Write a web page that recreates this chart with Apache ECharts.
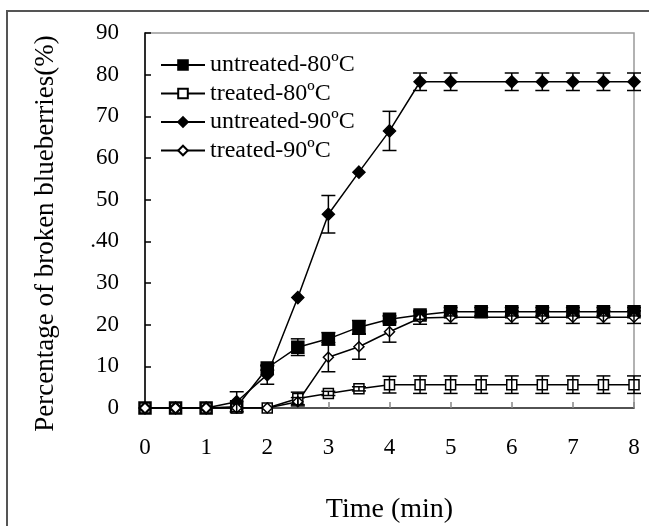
<!DOCTYPE html>
<html>
<head>
<meta charset="utf-8">
<script src="https://cdn.jsdelivr.net/npm/echarts@6/dist/echarts.min.js"></script>
<style>html,body{margin:0;padding:0;background:#fff}#c{width:649px;height:526px}</style>
</head>
<body>
<div id="c"></div>
<script>
// ---- data ----
var time = [0,0.5,1,1.5,2,2.5,3,3.5,4,4.5,5,5.5,6,6.5,7,7.5,8];
var untreated80    = [0,0,0,0.3,9.6,14.6,16.6,19.4,21.3,22.3,23.1,23.1,23.1,23.1,23.1,23.1,23.1];
var untreated80Err = [0,0,0,0,0.5,2,1.5,1.6,0.8,1,1,1,1,1,1,1,1];
var treated80      = [0,0,0,0,0,2.3,3.5,4.6,5.6,5.6,5.6,5.6,5.6,5.6,5.6,5.6,5.6];
var treated80Err   = [0,0,0,0,0,1.5,0.5,0.5,2,2.1,2.1,2.1,2.1,2.1,2.1,2.1,2.1];
var untreated90    = [0,0,0,1.5,8,26.5,46.5,56.6,66.5,78.3,78.3,null,78.3,78.3,78.3,78.3,78.3];
var untreated90Err = [0,0,0,2.4,2.3,0,4.5,0,4.7,2.1,2.1,null,2.1,2.1,2.1,2.1,2.1];
var treated90      = [0,0,0,0,0,1.5,12.2,14.7,18.3,21.6,21.8,null,21.8,21.8,21.8,21.8,21.8];
var treated90Err   = [0,0,0,0,0,1,3.5,3,2.5,1.5,1.5,null,1.5,1.5,1.5,1.5,1.5];
var seriesNames = ['untreated-80ºC','treated-80ºC','untreated-90ºC','treated-90ºC'];
var yTickLabels = ['0','10','20','30','.40','50','60','70','80','90'];
var xTickLabels = ['0','1','2','3','4','5','6','7','8'];

function pts(vals){
  var out=[];
  for(var i=0;i<time.length;i++){ if(vals[i]!==null) out.push([time[i],vals[i]]); }
  return out;
}
function errs(vals,e){
  var out=[];
  for(var i=0;i<time.length;i++){ if(vals[i]!==null && e[i]>0) out.push([time[i],vals[i]-e[i],vals[i]+e[i]]); }
  return out;
}
function errSeries(data){
  return {
    type:'custom', z:4, silent:true, data:data,
    renderItem:function(params,api){
      var x=api.value(0), lo=api.value(1), hi=api.value(2);
      var a=api.coord([x,lo]), b=api.coord([x,hi]); var w=7;
      var st={stroke:'#000',lineWidth:1.5};
      return {type:'group',children:[
        {type:'line',shape:{x1:a[0],y1:a[1],x2:b[0],y2:b[1]},style:st},
        {type:'line',shape:{x1:a[0]-w,y1:a[1],x2:a[0]+w,y2:a[1]},style:st},
        {type:'line',shape:{x1:b[0]-w,y1:b[1],x2:b[0]+w,y2:b[1]},style:st}
      ]};
    }
  };
}
function lineSeries(name,vals,symbol,size,filled){
  return {
    name:name, type:'line', data:pts(vals), symbol:symbol, symbolSize:size,
    showAllSymbol:true, z:3,
    lineStyle:{color:'#000',width:1.5},
    itemStyle:{color:filled?'#000':'#fff',borderColor:'#000',borderWidth:1.5},
    emphasis:{disabled:true}, animation:false
  };
}

var chart = echarts.init(document.getElementById('c'));
chart.setOption({
  animation:false,
  backgroundColor:'#fff',
  textStyle:{fontFamily:'Liberation Serif'},
  graphic:[{type:'rect',shape:{x:7,y:11,width:660,height:540},style:{fill:'none',stroke:'#555',lineWidth:2},z:-1}],
  grid:{left:145,right:15,top:33,bottom:118,show:true,borderColor:'#999',borderWidth:1.5,
        containLabel:false,outerBoundsMode:'none'},
  legend:{
    left:160, top:53, padding:0, orient:'vertical', itemWidth:44, itemHeight:12, itemGap:4.5,
    data:seriesNames,
    textStyle:{fontFamily:'Liberation Serif',fontSize:24,color:'#000',lineHeight:24}
  },
  xAxis:{
    type:'value', min:0, max:8, interval:1,
    name:'Time (min)', nameLocation:'middle', nameGap:88,
    nameTextStyle:{fontFamily:'Liberation Serif',fontSize:28,color:'#000'},
    axisLine:{lineStyle:{color:'#333',width:1.5}},
    axisTick:{inside:true,length:6,lineStyle:{color:'#888',width:1.5}},
    axisLabel:{margin:28,fontSize:23,color:'#000',fontFamily:'Liberation Serif',
      formatter:function(v){return xTickLabels[Math.round(v)];}},
    splitLine:{show:false}
  },
  yAxis:{
    type:'value', min:0, max:90, interval:10,
    name:'Percentage of broken blueberries(%)', nameLocation:'middle', nameGap:86,
    nameTextStyle:{fontFamily:'Liberation Serif',fontSize:27,color:'#000',padding:[0,26,0,0]},
    axisLine:{lineStyle:{color:'#000',width:1.5}},
    axisTick:{inside:true,length:6,lineStyle:{color:'#000',width:1.5}},
    axisLabel:{margin:26,fontSize:23,color:'#000',fontFamily:'Liberation Serif',
      formatter:function(v){return yTickLabels[Math.round(v/10)];}},
    splitLine:{show:false}
  },
  series:[
    lineSeries(seriesNames[0],untreated80,'rect',12,true),
    lineSeries(seriesNames[1],treated80,'rect',10,false),
    lineSeries(seriesNames[2],untreated90,'diamond',12,true),
    lineSeries(seriesNames[3],treated90,'diamond',10,false),
    errSeries(errs(untreated80,untreated80Err)),
    errSeries(errs(treated80,treated80Err)),
    errSeries(errs(untreated90,untreated90Err)),
    errSeries(errs(treated90,treated90Err))
  ]
});
</script>
</body>
</html>
